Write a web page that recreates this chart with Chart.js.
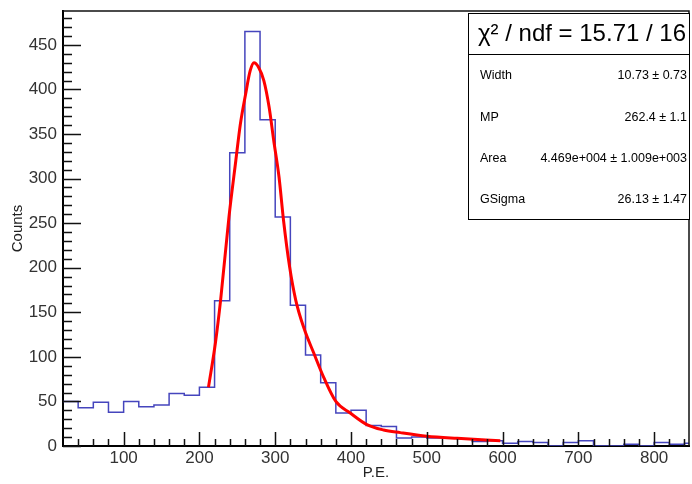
<!DOCTYPE html>
<html>
<head>
<meta charset="utf-8">
<script src="https://cdn.jsdelivr.net/npm/chart.js@4.4.1/dist/chart.umd.min.js"></script>
<style>
  html, body { margin: 0; padding: 0; background: #fff; }
  #wrap { width: 692px; height: 484px; }
</style>
</head>
<body>
<div id="wrap"><canvas id="peChart" width="692" height="484"></canvas></div>
<script>
// histogram bins (lower edge, P.E.) and counts
const binLow = [20, 40, 60, 80, 100, 120, 140, 160, 180, 200, 220, 240, 260, 280, 300, 320, 340, 360, 380, 400,
                420, 440, 460, 480, 500, 520, 540, 560, 580, 600, 620, 640, 660, 680, 700, 720, 740, 760, 780, 800,
                820, 840];
const binCounts = [50, 43, 49, 38, 50, 44, 46, 59, 57, 66, 163, 329, 465, 366, 257, 158, 102, 71, 37, 40,
                   23, 22, 9, 10, 9, 9, 8, 5, 6, 3, 5, 4, 0, 4, 6, 0, 0, 2, 0, 4,
                   2, 3];
const binLastEdge = 860;

// fitted curve (Landau x Gauss)
const fitX = [212, 221, 228, 239, 248, 254, 261, 267, 272, 278, 285, 292, 298, 305, 311, 319, 327, 338, 351, 364,
              380, 399, 421, 443, 465, 500, 540, 597];
const fitY = [66, 115, 164, 257, 320, 361, 395, 421, 430, 425, 410, 380, 343, 302, 253, 201, 164, 132, 104, 77,
              50, 37, 24, 18, 15, 11, 8.6, 6];

// axis ticks
const xMajor = [100, 200, 300, 400, 500, 600, 700, 800];
const yMajor = [0, 50, 100, 150, 200, 250, 300, 350, 400, 450];

// fit results
const fitTitle = '\u03C7\u00B2 / ndf = 15.71 / 16';
const fitParNames = ['Width', 'MP', 'Area', 'GSigma'];
const fitParValues = ['10.73 \u00B1 0.73', '262.4 \u00B1 1.1', '4.469e+004 \u00B1 1.009e+003', '26.13 \u00B1 1.47'];

const histPoints = binLow.map((x, i) => ({ x: x, y: binCounts[i] }));
histPoints.push({ x: binLastEdge, y: binCounts[binCounts.length - 1] });
const fitPoints = fitX.map((x, i) => ({ x: x, y: fitY[i] }));

const FONT = 'Liberation Sans, Arial, Helvetica, sans-serif';

// ROOT style: ticks inside the frame, frame box and stats box
const rootFrame = {
    id: 'rootFrame',
    afterDraw(chart) {
        const c = chart.ctx;
        const xs = chart.scales.x;
        const ys = chart.scales.y;
        const a = chart.chartArea;
        c.save();
        c.strokeStyle = '#111';

        // y ticks
        c.lineWidth = 1.5;
        c.beginPath();
        for (let v = 0; v <= 480; v += 10) {
            const py = Math.round(ys.getPixelForValue(v)) + 0.5;
            const len = yMajor.includes(v) ? 18 : 9;
            c.moveTo(a.left, py);
            c.lineTo(a.left + len, py);
        }
        // x ticks
        for (let v = 40; v <= 840; v += 20) {
            const px = Math.round(xs.getPixelForValue(v)) + 0.5;
            const len = xMajor.includes(v) ? 14 : 7;
            c.moveTo(px, a.bottom);
            c.lineTo(px, a.bottom - len);
        }
        c.stroke();

        // frame top / right
        c.lineWidth = 1.5;
        c.beginPath();
        c.moveTo(a.left, a.top);
        c.lineTo(a.right, a.top);
        c.lineTo(a.right, a.bottom);
        c.stroke();

        // stats box
        const bx = 468, by = 13, bw = 222, bh = 207;
        c.fillStyle = '#fff';
        c.fillRect(bx, by, bw, bh);
        c.lineWidth = 1;
        c.strokeStyle = '#000';
        c.strokeRect(bx + 0.5, by + 0.5, bw - 1, bh - 1);
        c.beginPath();
        c.moveTo(bx, 54.5);
        c.lineTo(bx + bw, 54.5);
        c.stroke();

        c.fillStyle = '#000';
        c.textBaseline = 'middle';
        c.textAlign = 'center';
        c.font = '24px ' + FONT;
        c.fillText(fitTitle, 582, 34);

        c.font = '12.5px ' + FONT;
        fitParNames.forEach((name, i) => {
            const ty = 76 + i * 41.3;
            c.textAlign = 'left';
            c.fillText(name, 480, ty);
            c.textAlign = 'right';
            c.fillText(fitParValues[i], 687, ty);
        });
        c.restore();
    }
};

const ctx = document.getElementById('peChart');
new Chart(ctx, {
    type: 'scatter',
    data: {
        datasets: [
            {
                label: 'fit',
                data: fitPoints,
                showLine: true,
                borderColor: '#ff0000',
                borderWidth: 3,
                pointRadius: 0,
                cubicInterpolationMode: 'monotone',
                fill: false
            },
            {
                label: 'P.E.',
                data: histPoints,
                showLine: true,
                stepped: true,
                borderColor: '#4545bd',
                borderWidth: 1.5,
                pointRadius: 0,
                fill: false
            }
        ]
    },
    options: {
        responsive: false,
        animation: false,
        devicePixelRatio: 1,
        layout: { padding: { top: 11, right: 3, left: 0, bottom: 0 } },
        plugins: {
            legend: { display: false },
            tooltip: { enabled: false }
        },
        scales: {
            x: {
                type: 'linear',
                min: 20,
                max: 846,
                afterBuildTicks: s => { s.ticks = xMajor.map(v => ({ value: v })); },
                afterFit: s => { s.height = 38; s.paddingLeft = 0; s.paddingRight = 0; },
                grid: { display: false, drawTicks: false },
                border: { display: true, color: '#000', width: 2 },
                ticks: { font: { family: FONT, size: 17 }, color: '#333', padding: 2, maxRotation: 0 },
                title: {
                    display: true, text: 'P.E.', color: '#222',
                    font: { family: FONT, size: 15 }, padding: { top: 0, bottom: 2 }
                }
            },
            y: {
                type: 'linear',
                min: 0,
                max: 488,
                afterBuildTicks: s => { s.ticks = yMajor.map(v => ({ value: v })); },
                afterFit: s => { s.width = 63; s.paddingTop = 0; s.paddingBottom = 0; },
                grid: { display: false, drawTicks: false },
                border: { display: true, color: '#000', width: 2 },
                ticks: { font: { family: FONT, size: 17 }, color: '#333', padding: 6 },
                title: {
                    display: true, text: 'Counts', color: '#222',
                    font: { family: FONT, size: 15 }, padding: { top: 9, bottom: 0 }
                }
            }
        }
    },
    plugins: [rootFrame]
});
</script>
</body>
</html>
